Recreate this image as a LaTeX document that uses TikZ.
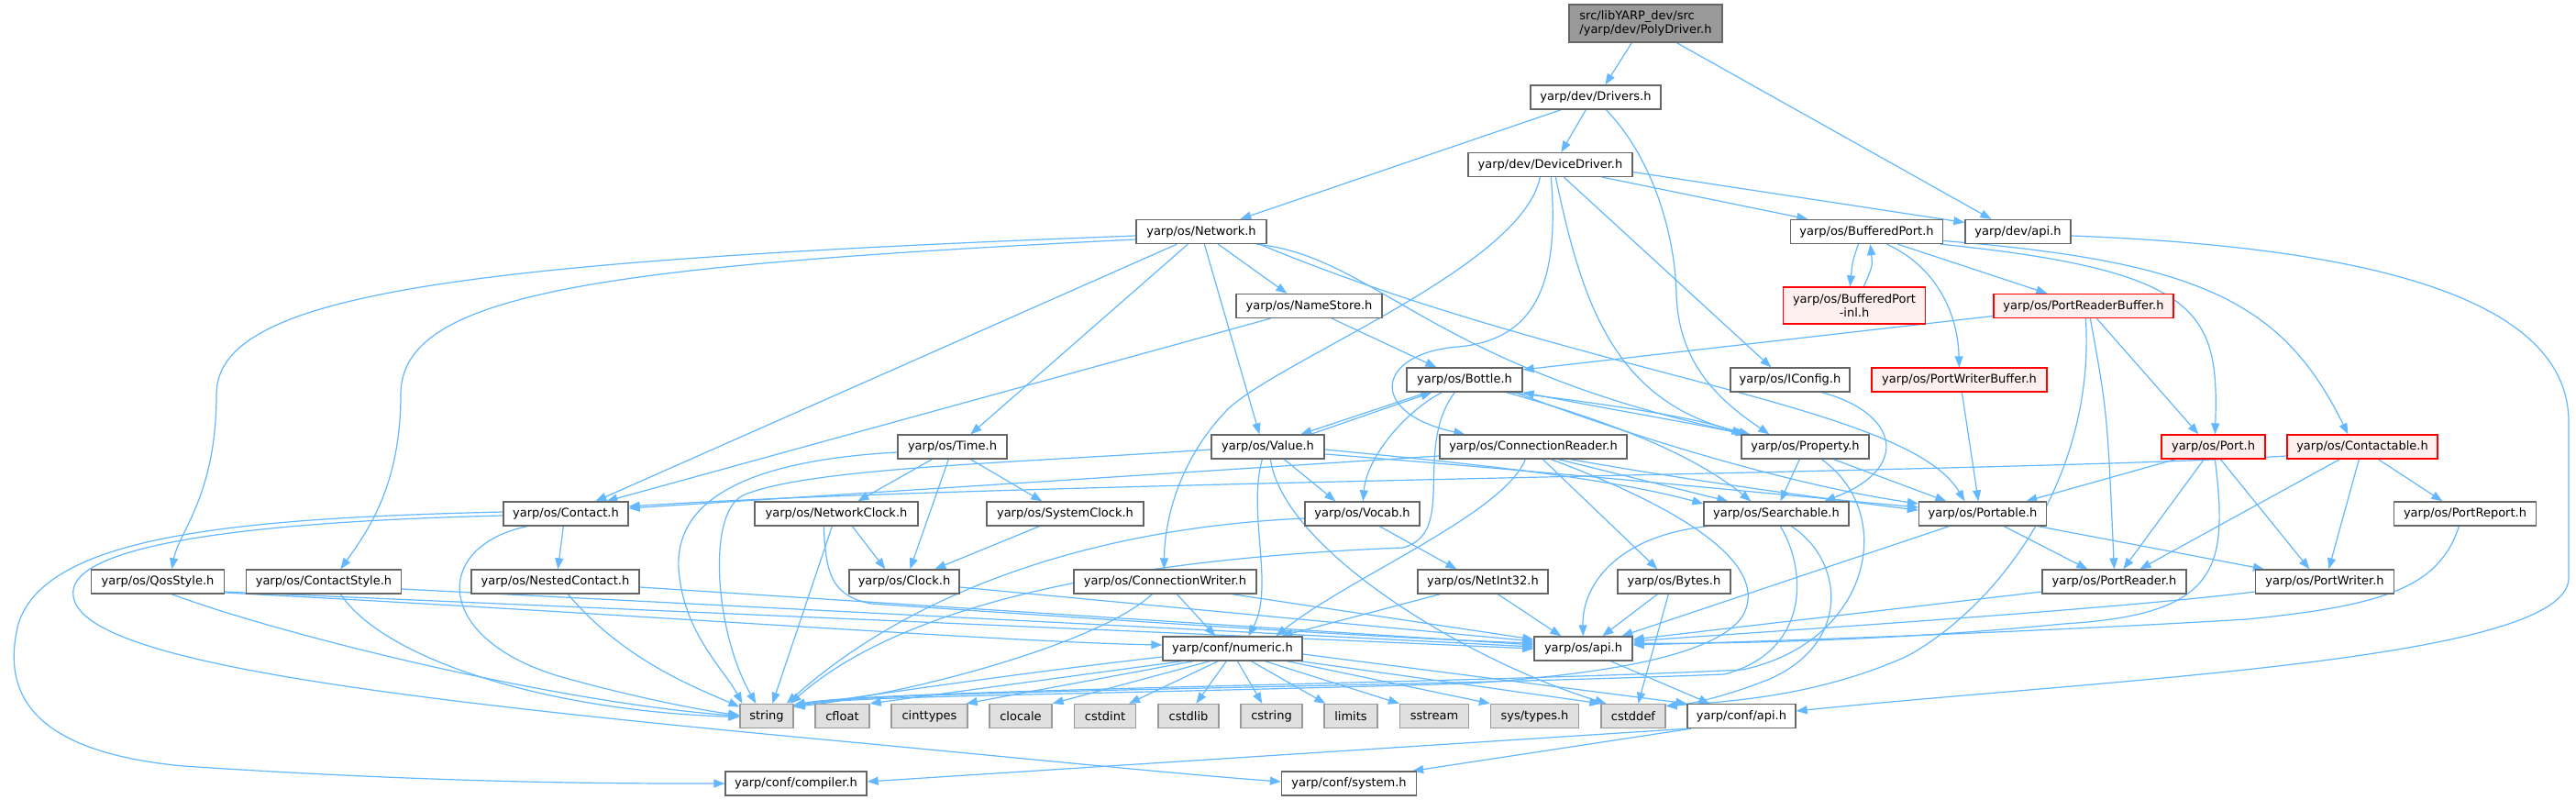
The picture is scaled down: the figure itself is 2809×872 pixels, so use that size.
\documentclass[tikz,border=0pt]{standalone}
\usepackage{fontspec}
\newfontfamily\djv{DejaVu Sans}
\usetikzlibrary{arrows.meta}
\definecolor{edgec}{HTML}{63B8FF}
\definecolor{boxborder}{HTML}{666666}
\definecolor{stdborder}{HTML}{999999}
\definecolor{stdfill}{HTML}{E0E0E0}
\definecolor{redfill}{HTML}{FFF0F0}
\definecolor{topfill}{HTML}{999999}
\pgfdeclarelayer{background}
\pgfsetlayers{background,main}
\tikzset{
  box/.style={draw=boxborder, fill=white, line width=1.3pt, minimum height=26pt, inner sep=0pt, text=black, font=\djv\fontsize{13}{15.5}\selectfont},
  stdh/.style={box, draw=stdborder, fill=stdfill},
  redb/.style={box, draw=red, fill=redfill},
  topb/.style={box, fill=topfill},
  dep/.style={draw=edgec, line width=1.2pt, -{Triangle[length=12pt,width=9pt]}},
}
\begin{document}
\begin{tikzpicture}[x=1pt,y=-1pt]
\useasboundingbox (0,0) rectangle (2809,872);
% ---------------- nodes ----------------
\node[topb, minimum width=167pt, minimum height=41pt, align=left] (poly) at (1794.5,25.5) {src/libYARP\_dev/src\\/yarp/dev/PolyDriver.h};
\node[box, minimum width=142pt] (drivers) at (1740,106) {yarp/dev/Drivers.h};
\node[box, minimum width=179pt] (devdrv) at (1690.5,179.5) {yarp/dev/DeviceDriver.h};
\node[box, minimum width=142pt] (network) at (1310,252.5) {yarp/os/Network.h};
\node[box, minimum width=166pt] (bport) at (2035.5,252.5) {yarp/os/BufferedPort.h};
\node[box, minimum width=115pt] (devapi) at (2200.5,252.5) {yarp/dev/api.h};
\node[box, minimum width=159pt] (namestore) at (1427.5,333.5) {yarp/os/NameStore.h};
\node[redb, minimum width=155pt, minimum height=40pt, align=center] (bportinl) at (2022,333) {yarp/os/BufferedPort\\-inl.h};
\node[redb, minimum width=196pt] (prbuf) at (2272,333.5) {yarp/os/PortReaderBuffer.h};
\node[box, minimum width=126pt] (bottle) at (1597,414) {yarp/os/Bottle.h};
\node[box, minimum width=130pt] (iconfig) at (1952,414) {yarp/os/IConfig.h};
\node[redb, minimum width=191pt] (pwbuf) at (2136.5,414) {yarp/os/PortWriterBuffer.h};
\node[box, minimum width=119pt] (time) at (1038.5,487) {yarp/os/Time.h};
\node[box, minimum width=123pt] (value) at (1382.5,487) {yarp/os/Value.h};
\node[box, minimum width=204pt] (connreader) at (1672,487) {yarp/os/ConnectionReader.h};
\node[box, minimum width=139pt] (property) at (1968.5,487) {yarp/os/Property.h};
\node[redb, minimum width=113pt] (port) at (2413.5,487) {yarp/os/Port.h};
\node[redb, minimum width=164pt] (contactable) at (2576,487) {yarp/os/Contactable.h};
\node[box, minimum width=136pt] (contact) at (617,560) {yarp/os/Contact.h};
\node[box, minimum width=178pt] (netclock) at (912,560) {yarp/os/NetworkClock.h};
\node[box, minimum width=171pt] (sysclock) at (1161.5,560) {yarp/os/SystemClock.h};
\node[box, minimum width=125pt] (vocab) at (1485.5,560) {yarp/os/Vocab.h};
\node[box, minimum width=158pt] (searchable) at (1937,560) {yarp/os/Searchable.h};
\node[box, minimum width=139pt] (portable) at (2162,560) {yarp/os/Portable.h};
\node[box, minimum width=155pt] (portreport) at (2688,560) {yarp/os/PortReport.h};
\node[box, minimum width=145pt] (qos) at (172,634) {yarp/os/QosStyle.h};
\node[box, minimum width=169pt] (contactstyle) at (353,634) {yarp/os/ContactStyle.h};
\node[box, minimum width=183pt] (nested) at (605.5,634) {yarp/os/NestedContact.h};
\node[box, minimum width=120pt] (clock) at (986,634) {yarp/os/Clock.h};
\node[box, minimum width=199pt] (connwriter) at (1270.5,634) {yarp/os/ConnectionWriter.h};
\node[box, minimum width=142pt] (netint32) at (1617,634) {yarp/os/NetInt32.h};
\node[box, minimum width=123pt] (bytes) at (1825.5,634) {yarp/os/Bytes.h};
\node[box, minimum width=157pt] (portreader) at (2305.5,634) {yarp/os/PortReader.h};
\node[box, minimum width=151pt] (portwriter) at (2535,634) {yarp/os/PortWriter.h};
\node[box, minimum width=152pt] (numeric) at (1344,707) {yarp/conf/numeric.h};
\node[box, minimum width=107pt] (osapi) at (1726.5,707) {yarp/os/api.h};
\node[stdh, minimum width=58pt] (string) at (836,780.5) {string};
\node[stdh, minimum width=59pt] (cfloat) at (918.5,780.5) {cfloat};
\node[stdh, minimum width=83pt] (cinttypes) at (1013.5,780.5) {cinttypes};
\node[stdh, minimum width=68pt] (clocale) at (1113,780.5) {clocale};
\node[stdh, minimum width=67pt] (cstdint) at (1205,780.5) {cstdint};
\node[stdh, minimum width=66pt] (cstdlib) at (1296,780.5) {cstdlib};
\node[stdh, minimum width=67pt] (cstring) at (1386.5,780.5) {cstring};
\node[stdh, minimum width=58pt] (limits) at (1473,780.5) {limits};
\node[stdh, minimum width=75pt] (sstream) at (1564,780.5) {sstream};
\node[stdh, minimum width=96pt] (systypes) at (1673.5,780.5) {sys/types.h};
\node[stdh, minimum width=70pt] (cstddef) at (1781,780.5) {cstddef};
\node[box, minimum width=118pt] (confapi) at (1899,780.5) {yarp/conf/api.h};
\node[box, minimum width=154pt] (compiler) at (868,854) {yarp/conf/compiler.h};
\node[box, minimum width=147pt] (system) at (1471,854) {yarp/conf/system.h};
% ---------------- edges ----------------
\begin{pgfonlayer}{background}
\fill[white] (0,0) rectangle (2809,872);
% PolyDriver
\draw[dep] ([xshift=69pt]poly.south west) -- ([xshift=82pt]drivers.north west);
\draw[dep] ([xshift=118pt]poly.south west) -- ([xshift=29pt]devapi.north west);
% Drivers
\draw[dep] ([xshift=34pt]drivers.south west) -- ([xshift=114pt]network.north west);
\draw[dep] ([xshift=61pt]drivers.south west) -- ([xshift=102pt]devdrv.north west);
\draw[dep] ([xshift=83pt]drivers.south west) .. controls (1800,170) and (1826,250) .. (1828,320) .. controls (1830,400) and (1880,440) .. ([xshift=31pt]property.north west);
% DeviceDriver
\draw[dep] ([xshift=147pt]devdrv.south west) -- ([xshift=19.5pt]bport.north west);
\draw[dep] ([yshift=-8pt]devdrv.east) -- ([yshift=10pt]devapi.west);
\draw[dep] ([xshift=79pt]devdrv.south west) .. controls (1660,290) and (1400,390) .. (1340,445) .. controls (1290,495) and (1270,560) .. ([xshift=99pt]connwriter.north west);
\draw[dep] ([xshift=91pt]devdrv.south west) .. controls (1700,300) and (1680,370) .. (1590,378) .. controls (1500,385) and (1490,450) .. ([xshift=28pt]connreader.north west);
\draw[dep] ([xshift=96pt]devdrv.south west) .. controls (1725,330) and (1760,440) .. ([xshift=10pt]property.north west);
\draw[dep] ([xshift=105pt]devdrv.south west) -- ([xshift=45pt]iconfig.north west);
% Network
\draw[dep] ([xshift=45pt]network.south west) -- ([xshift=101pt]contact.north west);
\draw[dep] ([xshift=57pt]network.south west) -- ([xshift=80pt]time.north west);
\draw[dep] ([xshift=75pt]network.south west) -- ([xshift=53pt]value.north west);
\draw[dep] ([xshift=90pt]network.south west) -- ([xshift=56pt]namestore.north west);
\draw[dep] ([yshift=-4.5pt]network.west) .. controls (500,285) and (236,320) .. (236,430) .. controls (236,540) and (195,580) .. ([xshift=88.5pt]qos.north west);
\draw[dep] ([yshift=-8.5pt]network.west) .. controls (650,290) and (437,320) .. (437,430) .. controls (437,530) and (400,580) .. ([xshift=103.5pt]contactstyle.north west);
\draw[dep] ([xshift=132pt]network.south west) .. controls (1500,280) and (1560,400) .. ([xshift=6pt]property.north west);
\draw[dep] ([xshift=135pt]network.south west) .. controls (1720,410) and (2080,440) .. ([xshift=50.5pt]portable.north west);
% BufferedPort
\draw[dep] ([xshift=74.5pt]bport.south west) .. controls (2020,285) .. ([xshift=73.5pt]bportinl.north west);
\draw[dep] ([xshift=88.5pt]bportinl.north west) .. controls (2042,290) .. ([xshift=87.5pt]bport.south west);
\draw[dep] ([xshift=117.5pt]bport.south west) -- ([xshift=59pt]prbuf.north west);
\draw[dep] ([xshift=105.5pt]bport.south west) .. controls (2110,290) and (2135,340) .. ([xshift=96pt]pwbuf.north west);
\draw[dep] ([xshift=164pt]bport.south west) .. controls (2400,295) and (2420,340) .. ([xshift=59pt]port.north west);
\draw[dep] ([yshift=-10pt]bport.east) .. controls (2400,285) and (2490,330) .. ([xshift=67pt]contactable.north west);
% dev/api
\draw[dep] ([yshift=-4.5pt]devapi.east) .. controls (2600,270) and (2801,330) .. (2801,460) -- (2801,630) .. controls (2801,720) and (2300,740) .. ([yshift=5.5pt]confapi.east);
% NameStore
\draw[dep] ([xshift=105pt]namestore.south west) -- ([xshift=33pt]bottle.north west);
\draw[dep] ([xshift=38pt]namestore.south west) -- ([xshift=113pt]contact.north west);
% PortReaderBuffer
\draw[dep] ([yshift=-11pt]prbuf.west) -- ([yshift=11pt]bottle.east);
\draw[dep] ([xshift=113pt]prbuf.south west) -- ([xshift=41pt]port.north west);
\draw[dep] ([xshift=106pt]prbuf.south west) .. controls (2298,450) .. ([xshift=79pt]portreader.north west);
\draw[dep] ([xshift=101pt]prbuf.south west) .. controls (2285,520) and (2180,660) .. (2080,715) .. controls (1980,760) and (1880,765) .. ([yshift=11pt]cstddef.east);
% Bottle
\draw[dep] ([xshift=23pt]bottle.south west) -- ([xshift=98pt]value.north west);
\draw[dep] ([xshift=109pt]value.north west) -- ([xshift=28pt]bottle.south west);
\draw[dep] ([xshift=113pt]bottle.south west) .. controls (1750,440) and (1850,455) .. ([xshift=2pt]property.north west);
\draw[dep] ([xshift=4pt]property.north west) .. controls (1850,462) and (1760,447) .. (bottle.south east);
\draw[dep] ([xshift=109pt]bottle.south west) .. controls (1740,455) and (1840,490) .. ([xshift=52pt]searchable.north west);
\draw[dep] ([xshift=119pt]bottle.south west) .. controls (1790,480) and (1960,530) .. ([yshift=11pt]portable.west);
\draw[dep] ([xshift=39pt]bottle.south west) .. controls (1530,450) and (1490,500) .. ([xshift=64pt]vocab.north west);
\draw[dep] ([xshift=53pt]bottle.south west) .. controls (1540,490) and (1590,580) .. (1530,597) .. controls (1150,612) and (960,680) .. ([xshift=-4pt]string.north east);
% IConfig, PortWriterBuffer
\draw[dep] ([xshift=100pt]iconfig.south west) .. controls (2070,450) and (2085,510) .. ([xshift=132pt]searchable.north west);
\draw[dep] ([xshift=99pt]pwbuf.south west) -- ([xshift=65.5pt]portable.north west);
% Time
\draw[dep] ([xshift=38pt]time.south west) -- ([xshift=113pt]netclock.north west);
\draw[dep] ([xshift=80pt]time.south west) -- ([xshift=61pt]sysclock.north west);
\draw[dep] ([xshift=56pt]time.south west) -- ([xshift=67pt]clock.north west);
\draw[dep] ([yshift=-6pt]time.west) .. controls (850,500) and (735,530) .. (740,620) .. controls (745,690) and (790,730) .. ([xshift=3pt]string.north west);
% Value
\draw[dep] ([xshift=80pt]value.south west) -- ([xshift=34pt]vocab.north west);
\draw[dep] ([xshift=56pt]value.south west) .. controls (1360,560) and (1390,640) .. ([xshift=94pt]numeric.north west);
\draw[dep] ([yshift=-3pt]value.east) .. controls (1600,505) and (1750,520) .. ([yshift=11pt]searchable.west);
\draw[dep] ([yshift=-8pt]value.east) .. controls (1700,515) and (1950,540) .. ([yshift=7pt]portable.west);
\draw[dep] ([xshift=65pt]value.south west) .. controls (1400,600) and (1600,720) .. ([xshift=6pt]cstddef.north west);
\draw[dep] ([yshift=-3pt]value.west) .. controls (1100,505) and (880,510) .. (810,540) .. controls (770,560) and (780,690) .. ([xshift=18pt]string.north west);
% ConnectionReader
\draw[dep] ([yshift=-10pt]connreader.west) -- ([yshift=6pt]contact.east);
\draw[dep] ([xshift=130pt]connreader.south west) -- ([xshift=27pt]searchable.north west);
\draw[dep] ([xshift=143pt]connreader.south west) .. controls (1850,525) and (2000,545) .. ([yshift=4pt]portable.west);
\draw[dep] ([xshift=113pt]connreader.south west) -- ([xshift=44pt]bytes.north west);
\draw[dep] ([xshift=94pt]connreader.south west) .. controls (1640,560) and (1470,630) .. ([xshift=124pt]numeric.north west);
\draw[dep] ([xshift=122pt]connreader.south west) .. controls (1850,560) and (1930,620) .. (1900,672) .. controls (1870,715) and (1750,735) .. (1600,745) .. controls (1200,757) and (950,758) .. ([yshift=12pt]string.east);
% Property
\draw[dep] ([xshift=64pt]property.south west) -- ([xshift=84pt]searchable.north west);
\draw[dep] ([xshift=101pt]property.south west) -- ([xshift=30.5pt]portable.north west);
\draw[dep] ([xshift=88pt]property.south west) .. controls (2070,560) and (2040,700) .. (1900,730) .. controls (1600,745) and (950,752) .. ([yshift=12pt]string.east);
% Searchable
\draw[dep] ([xshift=4pt]searchable.south west) .. controls (1760,585) and (1725,640) .. ([xshift=54pt]osapi.north west);
\draw[dep] ([xshift=84pt]searchable.south west) .. controls (1970,620) and (1975,710) .. (1880,735) .. controls (1500,750) and (960,752) .. ([yshift=11pt]string.east);
\draw[dep] ([xshift=96pt]searchable.south west) .. controls (2010,610) and (2020,700) .. (1930,740) .. controls (1880,760) and (1840,768) .. ([yshift=11pt]cstddef.east);
% Port
\draw[dep] ([xshift=16pt]port.south west) -- ([xshift=117.5pt]portable.north west);
\draw[dep] ([xshift=47pt]port.south west) -- ([xshift=89pt]portreader.north west);
\draw[dep] ([xshift=65pt]port.south west) -- ([xshift=59.5pt]portwriter.north west);
\draw[dep] ([xshift=59pt]port.south west) .. controls (2430,620) and (2420,670) .. (2250,680) .. controls (2050,700) and (1850,702) .. ([yshift=6pt]osapi.east);
% Contactable
\draw[dep] ([yshift=-10pt]contactable.west) .. controls (2200,515) and (1100,525) .. ([yshift=8pt]contact.east);
\draw[dep] ([xshift=58pt]contactable.south west) -- ([xshift=107pt]portreader.north west);
\draw[dep] ([xshift=79pt]contactable.south west) -- ([xshift=80.5pt]portwriter.north west);
\draw[dep] ([xshift=100pt]contactable.south west) -- ([xshift=53.5pt]portreport.north west);
% Contact
\draw[dep] ([xshift=66pt]contact.south west) -- ([xshift=95pt]nested.north west);
\draw[dep] ([xshift=27pt]contact.south west) .. controls (470,595) and (470,700) .. (620,740) .. controls (700,762) and (770,775) .. ([yshift=1pt]string.west);
\draw[dep] ([yshift=2pt]contact.west) .. controls (250,565) and (50,585) .. (20,680) .. controls (0,760) and (40,820) .. (200,835) .. controls (500,855) and (700,854) .. (compiler.west);
\draw[dep] ([yshift=-2pt]contact.west) .. controls (300,568) and (70,590) .. (80,650) .. controls (90,720) and (400,760) .. (940,810) .. controls (1150,830) and (1300,845) .. ([yshift=2pt]system.west);
% NestedContact, QosStyle, ContactStyle
\draw[dep] ([xshift=106pt]nested.south west) .. controls (680,720) and (760,750) .. ([yshift=10pt]string.west);
\draw[dep] ([yshift=-6pt]nested.east) -- ([yshift=4pt]osapi.west);
\draw[dep] ([xshift=88.5pt]qos.south west) .. controls (300,690) and (600,765) .. (string.west);
\draw[dep] ([yshift=-11pt]qos.east) -- (osapi.west);
\draw[dep] ([yshift=-12pt]qos.east) .. controls (700,670) and (1100,700) .. ([yshift=4pt]numeric.west);
\draw[dep] ([xshift=103.5pt]contactstyle.south west) .. controls (420,720) and (600,775) .. ([yshift=-1pt]string.west);
\draw[dep] ([yshift=-8pt]contactstyle.east) -- ([yshift=2pt]osapi.west);
% Clocks
\draw[dep] ([yshift=-6pt]clock.east) -- ([yshift=8pt]osapi.west);
\draw[dep] ([xshift=107pt]netclock.south west) -- ([xshift=40pt]clock.north west);
\draw[dep] ([xshift=85pt]netclock.south west) -- ([xshift=36pt]string.north west);
\draw[dep] ([xshift=76pt]netclock.south west) .. controls (900,630) and (910,650) .. (950,658) .. controls (1200,675) and (1500,695) .. ([yshift=6pt]osapi.west);
\draw[dep] ([xshift=58pt]sysclock.south west) -- ([xshift=94pt]clock.north west);
% Vocab
\draw[dep] ([yshift=-5pt]vocab.west) .. controls (1200,575) and (1000,640) .. ([xshift=-8pt]string.north east);
\draw[dep] ([xshift=82pt]vocab.south west) -- ([xshift=43pt]netint32.north west);
% ConnectionWriter, NetInt32, Bytes
\draw[dep] ([xshift=113pt]connwriter.south west) -- ([xshift=58pt]numeric.north west);
\draw[dep] ([xshift=173pt]connwriter.south west) -- ([yshift=10pt]osapi.west);
\draw[dep] ([xshift=86pt]connwriter.south west) .. controls (1200,700) and (1000,755) .. ([yshift=10pt]string.east);
\draw[dep] ([xshift=25pt]netint32.south west) -- ([xshift=130pt]numeric.north west);
\draw[dep] ([xshift=88pt]netint32.south west) -- ([xshift=30pt]osapi.north west);
\draw[dep] ([xshift=44pt]bytes.south west) -- ([xshift=75pt]osapi.north west);
\draw[dep] ([xshift=56pt]bytes.south west) -- ([xshift=41pt]cstddef.north west);
% Portable, PortReader, PortWriter, PortReport
\draw[dep] ([xshift=93.5pt]portable.south west) -- ([xshift=50pt]portreader.north west);
\draw[dep] ([xshift=130.5pt]portable.south west) -- ([xshift=10pt]portwriter.north west);
\draw[dep] ([xshift=33.5pt]portable.south west) -- ([xshift=96pt]osapi.north west);
\draw[dep] ([yshift=-11pt]portreader.west) -- ([yshift=10pt]osapi.east);
\draw[dep] ([yshift=-11pt]portwriter.west) .. controls (2300,665) and (1900,690) .. ([yshift=8pt]osapi.east);
\draw[dep] ([xshift=71.5pt]portreport.south west) .. controls (2660,640) and (2600,660) .. (2450,675) .. controls (2200,690) and (1900,700) .. ([yshift=4pt]osapi.east);
% numeric
\draw[dep] ([yshift=-9pt]numeric.west) .. controls (1100,735) and (950,758) .. ([yshift=11pt]string.east);
\draw[dep] ([xshift=22pt]numeric.south west) -- (cfloat.north east);
\draw[dep] ([xshift=34pt]numeric.south west) -- ([xshift=-2pt]cinttypes.north east);
\draw[dep] ([xshift=52pt]numeric.south west) -- (clocale.north east);
\draw[dep] ([xshift=61pt]numeric.south west) -- ([xshift=-8pt]cstdint.north east);
\draw[dep] ([xshift=70pt]numeric.south west) -- ([xshift=42pt]cstdlib.north west);
\draw[dep] ([xshift=82pt]numeric.south west) -- ([xshift=24pt]cstring.north west);
\draw[dep] ([xshift=97pt]numeric.south west) -- ([xshift=2pt]limits.north west);
\draw[dep] ([xshift=112pt]numeric.south west) -- (sstream.north west);
\draw[dep] ([xshift=136pt]numeric.south west) -- (systypes.north west);
\draw[dep] ([xshift=-3pt]numeric.south east) -- (cstddef.north west);
\draw[dep] ([yshift=-6pt]numeric.east) -- (confapi.north west);
% os/api, conf/api
\draw[dep] ([xshift=84pt]osapi.south west) -- ([xshift=25pt]confapi.north west);
\draw[dep] ([xshift=2pt]confapi.south west) -- ([yshift=2pt]compiler.east);
\draw[dep] ([xshift=5pt]confapi.south west) -- ([xshift=-5pt]system.north east);
\end{pgfonlayer}
\end{tikzpicture}
\end{document}
